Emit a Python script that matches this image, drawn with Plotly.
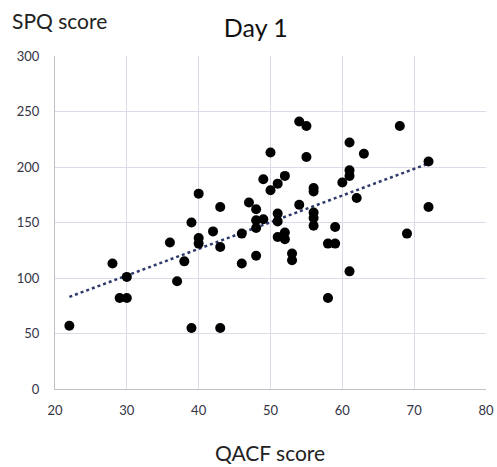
import numpy as np
import plotly.graph_objects as go

qacf = [22, 28, 29, 30, 30, 36, 37, 38, 39, 39, 40, 40, 40, 42, 43, 43, 43, 46, 46, 47,
        48, 48, 48, 48, 49, 49, 50, 50, 51, 51, 51, 51, 52, 52, 52, 53, 53, 54, 54, 55,
        55, 56, 56, 56, 56, 56, 58, 58, 59, 59, 60, 61, 61, 61, 61, 62, 63, 68, 69, 72, 72]
spq = [57, 113, 82, 82, 101, 132, 97, 115, 150, 55, 176, 136, 131, 142, 164, 128, 55, 140, 113, 168,
       162, 152, 145, 120, 189, 153, 213, 179, 185, 158, 151, 137, 192, 141, 135, 122, 116, 241, 166, 237,
       209, 181, 178, 159, 154, 147, 131, 82, 146, 131, 186, 222, 197, 192, 106, 172, 212, 237, 140, 205, 164]

x_ticks = [20, 30, 40, 50, 60, 70, 80]
y_ticks = [0, 50, 100, 150, 200, 250, 300]

slope, intercept = np.polyfit(qacf, spq, 1)
tx = [min(qacf), max(qacf)]
ty = [slope * v + intercept for v in tx]

fig = go.Figure()
fig.add_trace(go.Scatter(x=tx, y=ty, mode="lines",
                         line=dict(color="#2E3A6B", width=2.5, dash="dot"),
                         hoverinfo="skip", showlegend=False))
fig.add_trace(go.Scatter(x=qacf, y=spq, mode="markers",
                         marker=dict(color="black", size=10),
                         showlegend=False))

font_family = "Lato, Open Sans, sans-serif"
# plot area: left 55, top 56, right 486, bottom 388.6 (width 431, height 332.6)
fig.update_layout(
    width=497, height=467,
    margin=dict(l=55, r=11, t=56, b=78, autoexpand=False),
    paper_bgcolor="white", plot_bgcolor="white",
    font=dict(family=font_family, color="#333344"),
    title=dict(text="Day 1", x=0.466, xanchor="center", xref="paper",
               y=0.94, yref="container", yanchor="middle",
               font=dict(size=25, color="#111111", family=font_family)),
    annotations=[
        dict(text="SPQ score", xref="paper", yref="paper", x=-0.104, y=1.108,
             xanchor="left", yanchor="middle", showarrow=False,
             font=dict(size=21, color="#222222", family=font_family)),
        dict(text="QACF score", xref="paper", yref="paper", x=0.499, y=-0.191,
             xanchor="center", yanchor="middle", showarrow=False,
             font=dict(size=21, color="#222222", family=font_family)),
    ],
    xaxis=dict(range=[20, 80], tickvals=x_ticks, ticktext=[str(v) for v in x_ticks],
               showgrid=True, gridcolor="#DCDCE8", gridwidth=1,
               showline=True, linecolor="#BFBFC8", linewidth=1, automargin=False,
               zeroline=False, ticks="", ticklabelstandoff=9,
               tickfont=dict(size=13, color="#333344")),
    yaxis=dict(range=[0, 300], tickvals=y_ticks, ticktext=[str(v) for v in y_ticks],
               showgrid=True, gridcolor="#DCDCE8", gridwidth=1,
               showline=True, linecolor="#BFBFC8", linewidth=1, automargin=False,
               zeroline=False, ticks="", ticklabelstandoff=12,
               tickfont=dict(size=13, color="#333344")),
)

fig.write_html("out.html", config={"displayModeBar": False},
               post_script="document.body.style.margin='0';document.body.style.overflow='hidden';")
